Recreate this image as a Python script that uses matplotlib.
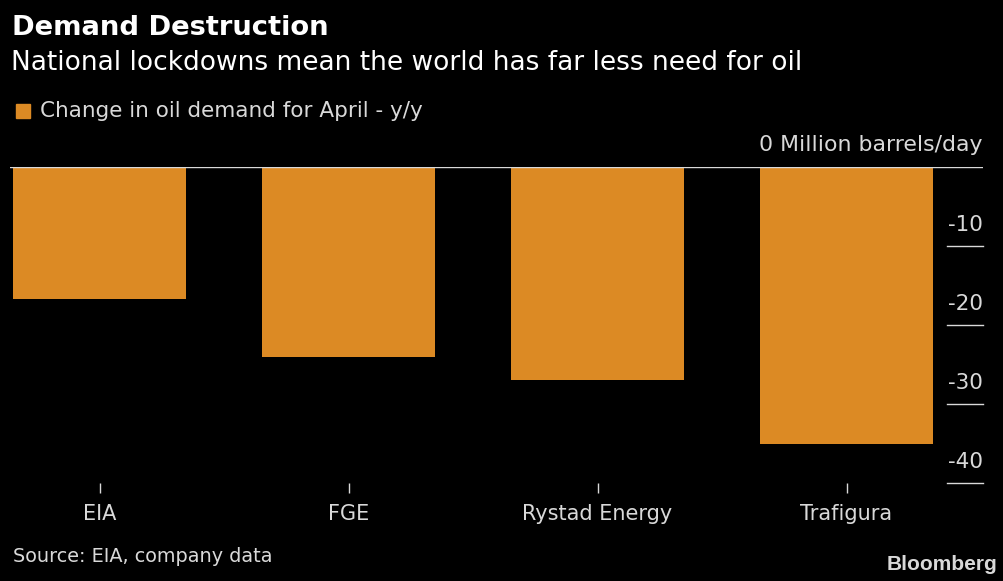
import matplotlib
matplotlib.use('Agg')
import matplotlib.pyplot as plt
import matplotlib.transforms as mtransforms

# data
companies = ['EIA', 'FGE', 'Rystad Energy', 'Trafigura']
demand_change = [-16.7, -24.0, -27.0, -35.0]
y_ticks = [-10, -20, -30, -40]

BG = '#000000'
BAR = '#DC8A24'
TXT = '#D9D9D9'
W, H = 1004, 581


def main():
    plt.rcParams['font.family'] = ['DejaVu Sans']
    fig = plt.figure(figsize=(W / 100, H / 100), dpi=100, facecolor=BG)

    # axes in pixel terms: x 10..983, y 167..483
    left, right, top, bottom = 10, 983, 167.3, 483
    ax = fig.add_axes([left / W, 1 - bottom / H, (right - left) / W, (bottom - top) / H])
    ax.set_facecolor(BG)

    x = list(range(len(companies)))
    ax.bar(x, demand_change, width=0.695, color=BAR, zorder=2)
    ax.set_xlim(-0.36, 3.548)
    ax.set_ylim(-40, 0)

    for s in ax.spines.values():
        s.set_visible(False)
    ax.axhline(0, color=TXT, lw=1, zorder=3)

    ax.set_yticks([])
    ax.set_xticks(x)
    ax.set_xticklabels(companies, color=TXT, fontsize=15)
    ax.tick_params(axis='x', length=7, width=1, color=TXT, pad=8)

    # right-side value ticks: short lines with labels above
    trans = mtransforms.blended_transform_factory(ax.transAxes, ax.transData)
    for v in y_ticks:
        ax.plot([0.9625, 1.0], [v, v], color=TXT, lw=1, transform=trans, clip_on=False)
        ax.text(1.0, v + 1.4, str(v), transform=trans, ha='right', va='bottom',
                color=TXT, fontsize=15.5)
    ax.text(1.0, 1.5, '0 Million barrels/day', transform=trans, ha='right', va='bottom',
            color=TXT, fontsize=15.8)

    # header
    fig.text(12 / W, 1 - 28 / H, 'Demand Destruction', color='white', fontsize=19.7,
             fontweight='bold', va='center', ha='left')
    fig.text(11 / W, 1 - 63 / H, 'National lockdowns mean the world has far less need for oil',
             color='white', fontsize=19, va='center', ha='left')

    # legend
    fig.patches.append(plt.Rectangle((16 / W, 1 - 118 / H), 14 / W, 14 / H,
                                     transform=fig.transFigure, color=BAR))
    fig.text(40 / W, 1 - 111 / H, 'Change in oil demand for April - y/y', color=TXT,
             fontsize=15.5, va='center', ha='left')

    # footer
    fig.text(13 / W, 1 - 556 / H, 'Source: EIA, company data', color=TXT,
             fontsize=13.9, va='center', ha='left')
    fig.text(997 / W, 1 - 564 / H, 'Bloomberg', color=TXT, fontsize=15,
             fontweight='bold', va='center', ha='right', family=['Liberation Sans'])

    fig.savefig('out.png', dpi=100, facecolor=BG)
    plt.close(fig)


if __name__ == '__main__':
    main()
